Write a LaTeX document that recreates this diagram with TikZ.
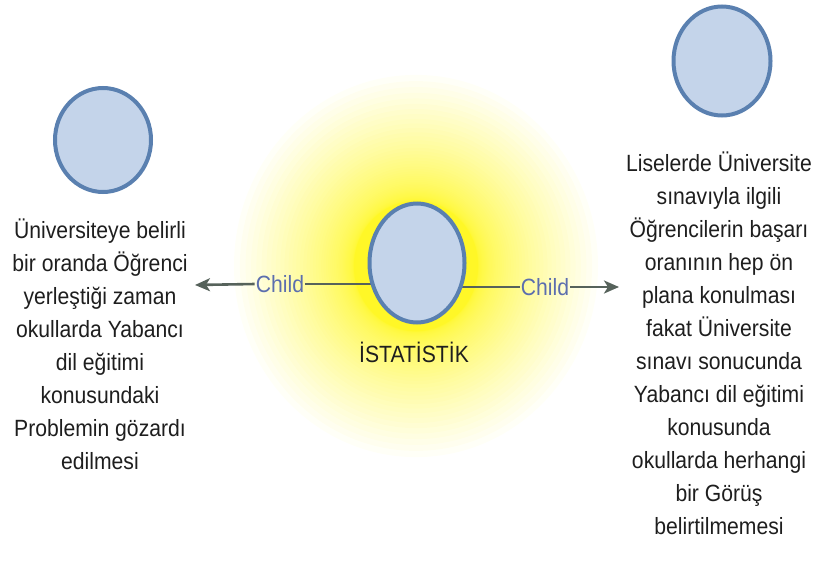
\documentclass[tikz,border=0pt]{standalone}
\usepackage{fontspec}
\setmainfont{Liberation Sans}[FakeStretch=0.9]
\usetikzlibrary{shapes.geometric,arrows.meta}
\pgfdeclarelayer{glowlayer}
\pgfdeclarelayer{links}
\pgfsetlayers{glowlayer,links,main}
\definecolor{nodefill}{HTML}{C4D4EA}
\definecolor{nodeedge}{HTML}{5A80B0}
\definecolor{linkgray}{HTML}{56625B}
\definecolor{childblue}{HTML}{5C6EAE}
\definecolor{textdark}{HTML}{1E1E1E}
\definecolor{glowyellow}{HTML}{FFF600}
\tikzset{
  topic/.style={ellipse, draw=nodeedge, fill=nodefill, line width=4pt, inner sep=0pt},
  desc/.style={align=center, text=textdark, inner sep=0pt,
    font=\fontsize{23.5}{33}\selectfont},
  childlabel/.style={text=childblue, inner sep=1pt,
    font=\fontsize{23.5}{28}\selectfont},
  link/.style={draw=linkgray, line width=2.6pt},
  linkarrow/.style={link, -{Stealth[length=15pt, width=13pt, inset=4pt]}},
  halo/.style={fill=glowyellow, fill opacity=0.03, draw=none},
}
\begin{document}
\begin{tikzpicture}[x=1pt, y=-1pt]
  \useasboundingbox (0,0) rectangle (818,570);

  % central topic and its caption
  \node[topic, minimum width=95pt, minimum height=119pt] (center) at (417,263) {};
  \node[desc] (centername) at (414,352) {İSTATİSTİK};

  % child topics
  \node[topic, minimum width=96pt, minimum height=104pt] (leftnode) at (103,140) {};
  \node[topic, minimum width=97pt, minimum height=109pt] (rightnode) at (722,61) {};

  \node[desc] (lefttext) at (100,344) {%
    Üniversiteye belirli\\
    bir oranda Öğrenci\\
    yerleştiği zaman\\
    okullarda Yabancı\\
    dil eğitimi\\
    konusundaki\\
    Problemin gözardı\\
    edilmesi};

  \node[desc] (righttext) at (719,343.5) {%
    Liselerde Üniversite\\
    sınavıyla ilgili\\
    Öğrencilerin başarı\\
    oranının hep ön\\
    plana konulması\\
    fakat Üniversite\\
    sınavı sonucunda\\
    Yabancı dil eğitimi\\
    konusunda\\
    okullarda herhangi\\
    bir Görüş\\
    belirtilmemesi};

  % connector labels and arrow ends
  \node[childlabel] (leftchild) at (280,284) {Child};
  \node[childlabel] (rightchild) at (545,287) {Child};
  \coordinate (lefttip) at (195,285);
  \coordinate (righttip) at (619,287);

  \begin{pgfonlayer}{links}
    \draw[link] (center.center |- leftchild.east) -- (leftchild.east);
    \draw[linkarrow] (leftchild.west) -- (lefttip);
    \draw[link] (center.center |- rightchild.west) -- (rightchild.west);
    \draw[linkarrow] (rightchild.east) -- (righttip);
  \end{pgfonlayer}

  % soft yellow halo behind the central topic: stacked translucent discs,
  % packed densely near the topic and thinning outwards
  \begin{pgfonlayer}{glowlayer}
    \foreach \k in {1,...,60}{
      \pgfmathsetmacro{\haloR}{62+120*(\k/60)^3}
      \path[halo] (416,266) ellipse[x radius=\haloR pt, y radius=1.05*\haloR pt];
    }
  \end{pgfonlayer}
\end{tikzpicture}
\end{document}
